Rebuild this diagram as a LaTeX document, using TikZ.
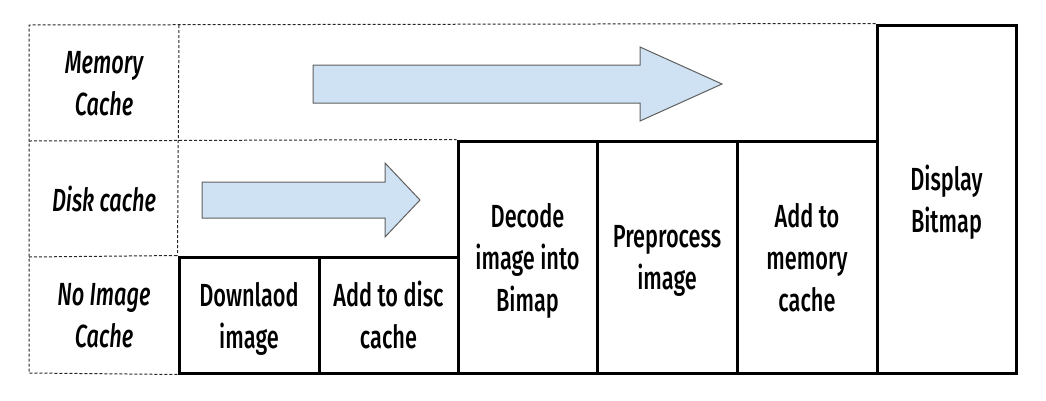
\documentclass[tikz,border=0pt]{standalone}
\usepackage{fontspec}
\IfFontExistsTF{Fira Sans Medium}
  {\setmainfont{Fira Sans Medium}[FakeStretch=0.68, ItalicFont=Fira Sans Medium Italic]}
  {\setmainfont{Fira Sans}[FakeStretch=0.7, FakeBold=0.6]}
\definecolor{arrowblue}{HTML}{CFE2F3}
\definecolor{arrowgray}{HTML}{5F5F5F}
\tikzset{
  stepbox/.style={draw, line width=3pt, inner sep=0pt, align=center, text depth=0pt,
    font=\fontsize{32}{42}\selectfont},
  cachelabel/.style={align=center, text depth=0pt, font=\fontsize{32}{42}\selectfont\itshape},
  cachegrid/.style={black!85, line width=1pt, dash pattern=on 3pt off 2pt},
  flowarrow/.style={fill=arrowblue, draw=arrowgray, line width=1pt}
}

\begin{document}
\begin{tikzpicture}[x=1pt,y=-1pt]
\useasboundingbox (0,0) rectangle (1046,400);

% cache levels
\node[cachelabel] (memlabel) at (104,83) {Memory\\Cache};
\node[cachelabel] (disklabel) at (104,199) {Disk cache};
\node[cachelabel] (nolabel) at (104,315) {No Image\\Cache};

% steps
\node[stepbox, minimum width=140pt, minimum height=116pt] (download) at (249,315) {Downlaod\\image};
\node[stepbox, minimum width=139pt, minimum height=116pt] (adddisc) at (388.5,315) {Add to disc\\cache};
\node[stepbox, minimum width=139pt, minimum height=232pt] (decode) at (527.5,257) {Decode\\image into\\Bimap};
\node[stepbox, minimum width=140pt, minimum height=232pt] (preproc) at (667,257) {Preprocess\\image};
\node[stepbox, minimum width=140pt, minimum height=232pt] (addmem) at (807,257) {Add to\\memory\\cache};
\node[stepbox, minimum width=139pt, minimum height=348pt] (display) at (946.5,199) {Display\\Bitmap};

% dotted grid
\draw[cachegrid] (display.north west) -- (29,25) -- (29,373) -- (download.south west);
\draw[cachegrid] (179,25) -- (download.north west);
\draw[cachegrid] (29,141) -- (decode.north west);
\draw[cachegrid] (29,257) -- (download.north west);

% block arrows
\draw[flowarrow] (313,65) -- (640,65) -- (640,47) -- (722,84) -- (640,121) -- (640,103) -- (313,103) -- cycle;
\draw[flowarrow] (202,182) -- (385,182) -- (385,163) -- (420,200) -- (385,237) -- (385,218) -- (202,218) -- cycle;
\end{tikzpicture}
\end{document}
